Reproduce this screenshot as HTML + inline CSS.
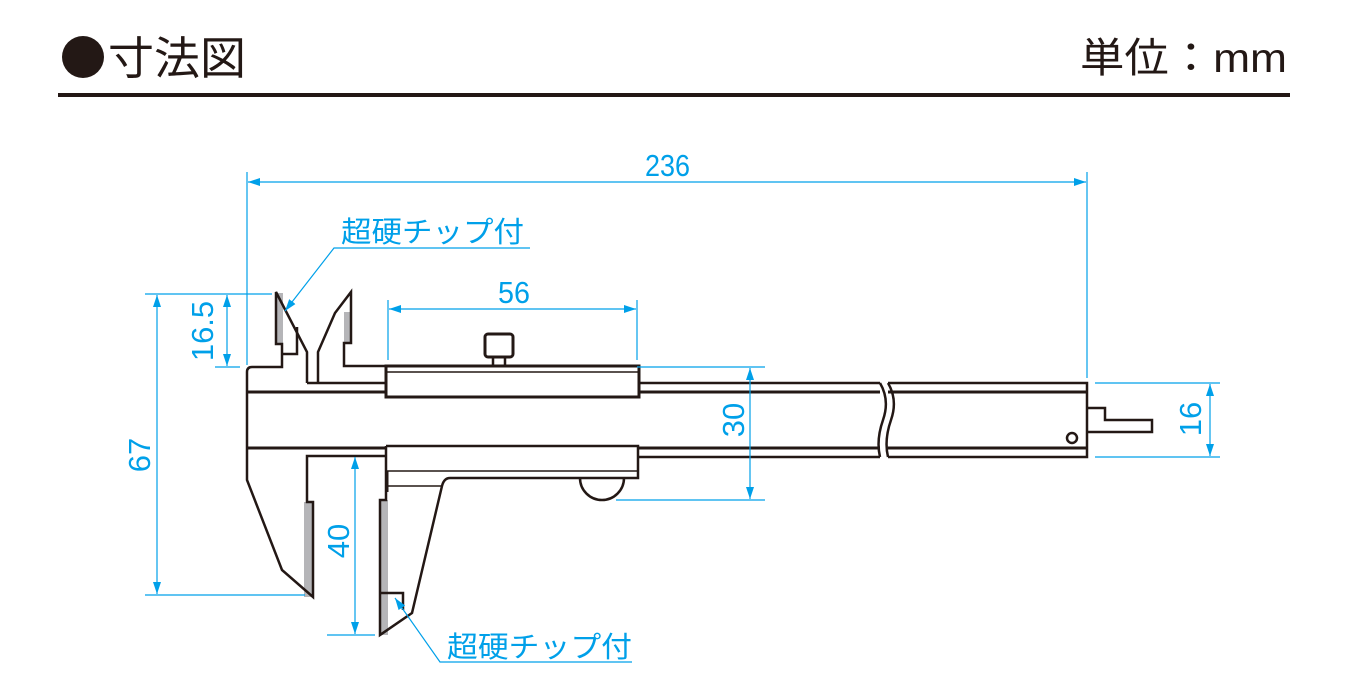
<!DOCTYPE html>
<html><head><meta charset="utf-8"><style>
html,body{margin:0;padding:0;background:#fff;}
svg{display:block;}
.h{font-family:"Liberation Sans","Noto Sans CJK JP",sans-serif;fill:#231815;}
.c{font-family:"Liberation Sans","Noto Sans CJK JP",sans-serif;fill:#00a0e9;}
</style></head><body>
<svg width="1350" height="700" viewBox="0 0 1350 700" xmlns="http://www.w3.org/2000/svg">
<defs>
<marker id="a" viewBox="0 0 12 8" refX="12" refY="4" markerWidth="12" markerHeight="8" orient="auto-start-reverse" markerUnits="userSpaceOnUse"><path d="M0,0 L12,4 L0,8 Z" fill="#00a0e9"/></marker>
</defs>
<!-- header -->
<circle cx="83" cy="57" r="21" fill="#231815"/>
<text x="108" y="74" class="h" font-size="45" textLength="138" lengthAdjust="spacingAndGlyphs">寸法図</text>
<text x="1080" y="72" class="h" font-size="41" textLength="207" lengthAdjust="spacingAndGlyphs">単位：mm</text>
<rect x="58" y="93" width="1232" height="4" fill="#231815"/>

<!-- caliper -->
<g fill="none" stroke="#231815" stroke-width="2.5" stroke-linejoin="miter">
<g fill="#b5b5b8" stroke="none">
<rect x="276" y="293" width="7" height="51"/>
<rect x="344" y="312" width="7" height="31"/>
<rect x="304" y="502" width="9" height="95"/>
<rect x="380" y="500" width="8" height="135"/>
</g>
<path d="M307,383 L307,352 L276,292 L276,344 L282,344 L282,367 L252,367 Q247,367 247,372 L247,480 L282,570 L313,597 L313,502 L307,502 L307,456 L386,456"/>
<path d="M282,354 L297,354 L297,327"/>
<path d="M307,383 L386,383"/>
<path d="M247,392 L386,392" stroke-width="3"/>
<path d="M247,448 L386,448" stroke-width="3"/>
<path d="M318,383 L318,352 L335,313 L351,292 L351,343 L344,343 L344,366 L386,366"/>
<rect x="386" y="366" width="253" height="31" stroke-width="3"/>
<line x1="386" y1="372" x2="639" y2="372" stroke-width="1.5"/>
<rect x="485" y="334" width="28" height="23" rx="3" stroke-width="3"/>
<path d="M493,357 L493,366 M505,357 L505,366"/>
<path d="M386,446 L638,446 L638,478 L450,478 Q444,478 442,486 L412,613 L380,635 L380,500 L386,500 L386,446" />
<line x1="386" y1="471" x2="638" y2="471" stroke-width="1.5"/>
<path d="M388,486 L442,486" stroke-width="1.5"/>
<path d="M387,471 L387,492" stroke-width="3"/>
<path d="M380,593 L403,593 L403,610"/>
<path d="M580,478 A22,22 0 0 0 624,478"/>
<path d="M639,383 L880,383 M639,457 L880,457"/>
<path d="M639,392 L880,392 M639,448 L880,448" stroke-width="3"/>
<path d="M880,383 Q890,400 883,420 Q876,440 880,457"/>
<path d="M888,383 Q898,400 891,420 Q884,440 888,457"/>
<path d="M888,383 L1087,383 L1087,457 L888,457"/>
<path d="M888,392 L1087,392 M888,448 L1087,448" stroke-width="3"/>
<path d="M1087,408 L1105,408 L1105,420 L1152,420 L1152,432 L1087,432"/>
<ellipse cx="1072" cy="438" rx="5" ry="5"/>
</g>

<!-- dimensions -->
<g stroke="#00a0e9" stroke-width="1.2" fill="none">
<line x1="247" y1="172" x2="247" y2="365"/>
<line x1="1087" y1="172" x2="1087" y2="378"/>
<line x1="248" y1="182" x2="1086" y2="182" marker-start="url(#a)" marker-end="url(#a)"/>
<line x1="145" y1="294" x2="272" y2="294"/>
<line x1="215" y1="367" x2="240" y2="367"/>
<line x1="227" y1="295" x2="227" y2="366" marker-start="url(#a)" marker-end="url(#a)"/>
<line x1="145" y1="595" x2="305" y2="595"/>
<line x1="157" y1="295" x2="157" y2="594" marker-start="url(#a)" marker-end="url(#a)"/>
<line x1="388" y1="300" x2="388" y2="360"/>
<line x1="637" y1="300" x2="637" y2="360"/>
<line x1="389" y1="309" x2="636" y2="309" marker-start="url(#a)" marker-end="url(#a)"/>
<line x1="637" y1="367" x2="765" y2="367"/>
<line x1="616" y1="500" x2="765" y2="500"/>
<line x1="750" y1="368" x2="750" y2="499" marker-start="url(#a)" marker-end="url(#a)"/>
<line x1="327" y1="635" x2="375" y2="635"/>
<line x1="355" y1="457" x2="355" y2="634" marker-start="url(#a)" marker-end="url(#a)"/>
<line x1="1095" y1="383" x2="1220" y2="383"/>
<line x1="1095" y1="457" x2="1220" y2="457"/>
<line x1="1210" y1="384" x2="1210" y2="456" marker-start="url(#a)" marker-end="url(#a)"/>
<polyline points="530,248 334,248 285,311" marker-end="url(#a)"/>
<polyline points="632,662 440,662 395,598" marker-end="url(#a)"/>
</g>
<g>
<text x="645" y="176" font-size="31" class="c" textLength="45" lengthAdjust="spacingAndGlyphs">236</text>
<text x="498" y="303" font-size="31" class="c" textLength="32" lengthAdjust="spacingAndGlyphs">56</text>
<text x="341" y="242" font-size="29" class="c" textLength="183" lengthAdjust="spacingAndGlyphs">超硬チップ付</text>
<text x="447" y="657" font-size="29" class="c" textLength="185" lengthAdjust="spacingAndGlyphs">超硬チップ付</text>
<text transform="translate(213,331) rotate(-90)" font-size="31" text-anchor="middle" class="c">16.5</text>
<text transform="translate(150,455) rotate(-90)" font-size="31" text-anchor="middle" class="c">67</text>
<text transform="translate(744,420) rotate(-90)" font-size="31" text-anchor="middle" class="c">30</text>
<text transform="translate(349,541) rotate(-90)" font-size="31" text-anchor="middle" class="c">40</text>
<text transform="translate(1201,419) rotate(-90)" font-size="31" text-anchor="middle" class="c">16</text>
</g>
</svg>
</body></html>
